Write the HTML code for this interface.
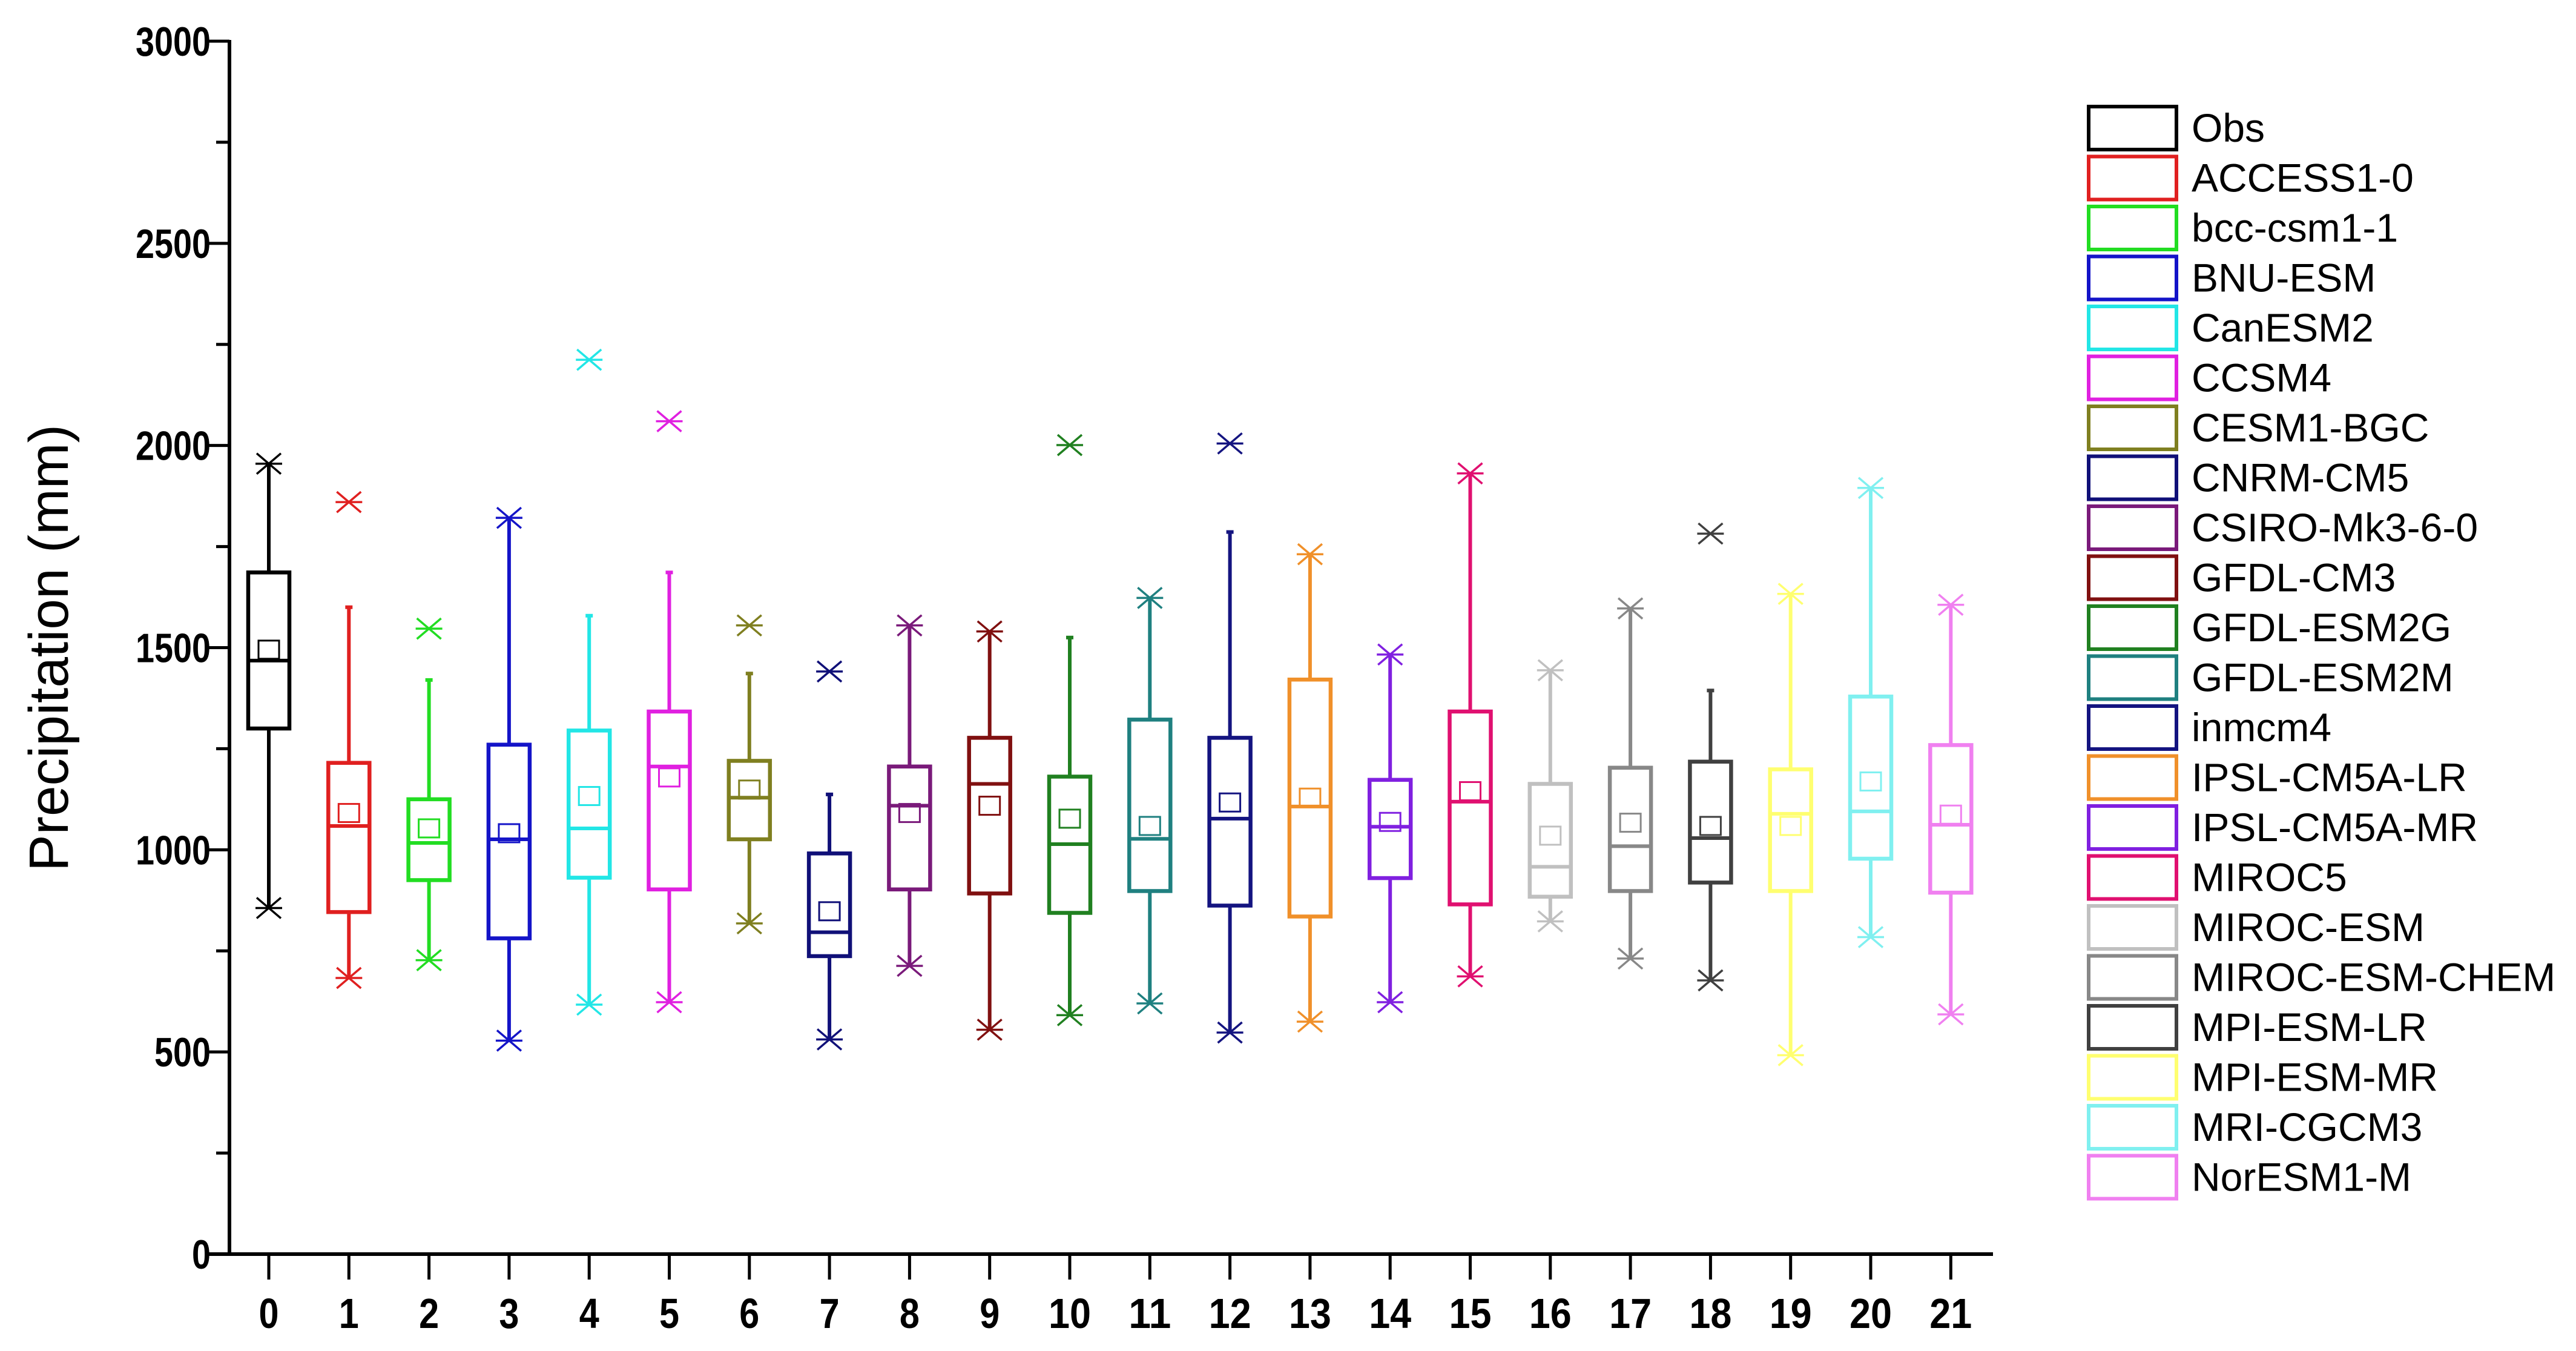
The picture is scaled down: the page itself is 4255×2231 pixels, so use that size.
<!DOCTYPE html>
<html><head><meta charset="utf-8"><style>
html,body{margin:0;padding:0;background:#fff;}
svg{display:block;font-family:"Liberation Sans",Arial,sans-serif;}
</style></head><body>
<svg id="chart" width="4255" height="2231" viewBox="0 0 4255 2231" xmlns="http://www.w3.org/2000/svg">
<rect width="4255" height="2231" fill="#fff"/>
<g id="axes"></g>
<g id="boxes"></g>
<g id="legend"></g>
</svg>
<script>
const models = ["Obs","ACCESS1-0","bcc-csm1-1","BNU-ESM","CanESM2","CCSM4","CESM1-BGC","CNRM-CM5","CSIRO-Mk3-6-0","GFDL-CM3","GFDL-ESM2G","GFDL-ESM2M","inmcm4","IPSL-CM5A-LR","IPSL-CM5A-MR","MIROC5","MIROC-ESM","MIROC-ESM-CHEM","MPI-ESM-LR","MPI-ESM-MR","MRI-CGCM3","NorESM1-M"];
const colors = ["#000000","#e02020","#22dd22","#1414c8","#22e6e6","#e020e0","#7f7f20","#101078","#7a1a7a","#801010","#208020","#1f8080","#141480","#f0902a","#8020e0","#e01070","#c0c0c0","#888888","#404040","#ffff70","#80f0f0","#f080f0"];
const whiskerHigh = [1955,1600,1420,1821,1579,1686,1436,1137,1555,1540,1525,1623,1786,1731,1483,1931,1444,1597,1394,1633,1895,1606];
const q3 = [1686,1215,1125,1260,1295,1342,1220,991,1206,1277,1181,1322,1277,1421,1173,1342,1163,1203,1218,1199,1379,1259];
const medians = [1468,1059,1017,1026,1053,1206,1129,796,1109,1163,1014,1027,1077,1107,1057,1119,958,1009,1029,1089,1095,1062];
const means = [1495,1091,1053,1041,1133,1179,1149,848,1091,1109,1077,1059,1117,1129,1069,1145,1035,1067,1059,1059,1169,1087];
const q1 = [1300,846,925,781,931,902,1026,737,902,892,844,898,862,835,930,865,884,898,919,898,978,894];
const whiskerLow = [856,683,727,528,617,623,818,531,713,555,591,620,548,575,623,687,823,731,677,492,784,593];
const outliersHigh = [null,1860,1547,null,2212,2060,1555,1441,null,null,2001,null,2005,null,null,null,null,null,1782,null,null,null];
const yTicks = [0,500,1000,1500,2000,2500,3000];
const xTicks = [0,1,2,3,4,5,6,7,8,9,10,11,12,13,14,15,16,17,18,19,20,21];

const NS = "http://www.w3.org/2000/svg";
const X0 = 444, DX = 132.3, Y0 = 2071, YTOP = 68;
function xs(i){ return X0 + i*DX; }
function ys(v){ return Y0 - v*(Y0-YTOP)/3000; }
function mk(tag, attrs, parent){
  const e = document.createElementNS(NS, tag);
  for (const k in attrs) e.setAttribute(k, attrs[k]);
  parent.appendChild(e); return e;
}
const axes = document.getElementById('axes');
const boxes = document.getElementById('boxes');
const legend = document.getElementById('legend');

let yl = mk('line',{x1:379,y1:YTOP-2,x2:379,y2:Y0+2,stroke:'#000','stroke-width':6},axes);


let xl = mk('line',{x1:340,y1:Y0,x2:3292,y2:Y0,stroke:'#000','stroke-width':6},axes);



for (let v=0; v<=3000; v+=250){
  const major = v%500===0;
  const t = mk('line',{x1:major?340:357,y1:ys(v),x2:379,y2:ys(v),stroke:'#000','stroke-width':5},axes);
  
  
}
yTicks.forEach(v=>{
  const s = String(v);
  const t = mk('text',{x:348,y:ys(v)+24,'text-anchor':'end','font-size':68,'font-weight':'bold',fill:'#000',textLength:31*s.length,lengthAdjust:'spacingAndGlyphs'},axes);
  t.textContent = s;
  
  
});
xTicks.forEach(i=>{
  const t = mk('line',{x1:xs(i),y1:Y0,x2:xs(i),y2:2113,stroke:'#000','stroke-width':5},axes);
  
  
  const s = String(i);
  const l = mk('text',{x:xs(i),y:2193,'text-anchor':'middle','font-size':70,'font-weight':'bold',fill:'#000',textLength:33*s.length+(s.length-1)*4,lengthAdjust:'spacingAndGlyphs'},axes);
  l.textContent = s;
  
  
});
const yt = mk('text',{x:0,y:0,transform:'translate(112,1070) rotate(-90)','text-anchor':'middle','font-size':92,fill:'#000',textLength:738,lengthAdjust:'spacingAndGlyphs'},axes);
yt.textContent = 'Precipitation (mm)';



function star(g, cx, cy, col){
  const s = mk('g',{stroke:col,'stroke-width':3.5},g);
  
  
  mk('line',{x1:cx-22,y1:cy,x2:cx+22,y2:cy},s);
  mk('line',{x1:cx-20,y1:cy-17,x2:cx+20,y2:cy+17},s);
  mk('line',{x1:cx-20,y1:cy+17,x2:cx+20,y2:cy-17},s);
}

models.forEach((m,i)=>{
  const c = colors[i], cx = xs(i), w = 68;
  const g = mk('g',{fill:'none',stroke:c},boxes);
  
  
  mk('line',{x1:cx,y1:ys(whiskerHigh[i]),x2:cx,y2:ys(q3[i]),'stroke-width':6},g);
  mk('line',{x1:cx,y1:ys(q1[i]),x2:cx,y2:ys(whiskerLow[i]),'stroke-width':6},g);
  const b = mk('rect',{x:cx-w/2,y:ys(q3[i]),width:w,height:ys(q1[i])-ys(q3[i]),'stroke-width':6.5},g);
  
  
  const md = mk('line',{x1:cx-w/2,y1:ys(medians[i]),x2:cx+w/2,y2:ys(medians[i]),'stroke-width':6},g);
  
  
  const mn = mk('rect',{x:cx-17,y:ys(means[i])-15,width:34,height:30,'stroke-width':3},g);
  
  
  if (outliersHigh[i]!==null){
    mk('line',{x1:cx-6,y1:ys(whiskerHigh[i]),x2:cx+6,y2:ys(whiskerHigh[i]),'stroke-width':6},g);
    star(g,cx,ys(outliersHigh[i]),c);
  } else {
    star(g,cx,ys(whiskerHigh[i]),c);
  }
  star(g,cx,ys(whiskerLow[i]),c);

  const ly = 174 + i*82.5;
  const le = mk('g',{},legend);
  
  
  mk('rect',{x:3450,y:ly+2,width:145,height:71,fill:'none',stroke:c,'stroke-width':6},le);
  const t = mk('text',{x:3620,y:ly+60,'font-size':66,fill:'#000'},le);
  t.textContent = m;
});
</script>
</body></html>
